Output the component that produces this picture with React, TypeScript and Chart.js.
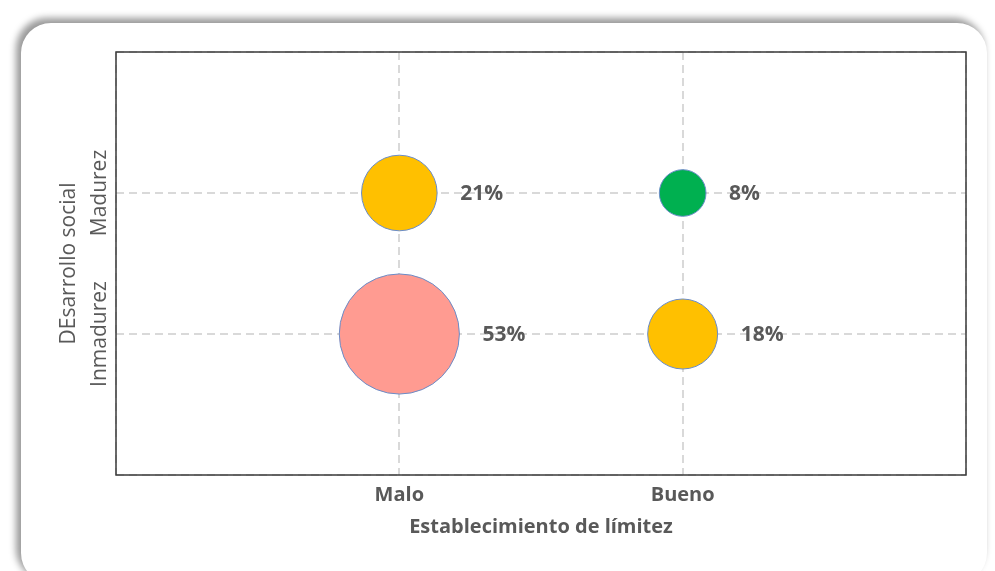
import React, { useEffect, useRef } from 'react';
import { Chart, registerables } from 'chart.js';

Chart.register(...registerables);

const xCategories = ['Malo', 'Bueno'];
const yCategories = ['Inmadurez', 'Madurez'];
const pointX = ['Malo', 'Malo', 'Bueno', 'Bueno'];
const pointY = ['Madurez', 'Inmadurez', 'Madurez', 'Inmadurez'];
const percentages = [21, 53, 8, 18];
const pointColors = ['#FFC000', '#FF9B91', '#00B050', '#FFC000'];
const xTitle = 'Establecimiento de límitez';
const yTitle = 'DEsarrollo social';

const TEXT = '#595959';
const FONT = '"Open Sans"';

const bubbleData = percentages.map((v, i) => ({
  x: xCategories.indexOf(pointX[i]) + 1,
  y: yCategories.indexOf(pointY[i]) + 1,
  r: 8.25 * Math.sqrt(v),
  v,
}));

const extrasPlugin = {
  id: 'extras',
  afterDatasetsDraw(chart: any) {
    const { ctx, chartArea, scales } = chart;
    ctx.save();
    ctx.strokeStyle = '#3a3a3a';
    ctx.lineWidth = 1.5;
    ctx.setLineDash([]);
    ctx.strokeRect(chartArea.left, chartArea.top, chartArea.right - chartArea.left, chartArea.bottom - chartArea.top);
    const meta = chart.getDatasetMeta(0);
    ctx.fillStyle = TEXT;
    ctx.font = `bold 21px ${FONT}`;
    ctx.textAlign = 'left';
    ctx.textBaseline = 'middle';
    meta.data.forEach((el: any, i: number) => {
      const r = el.options.radius;
      ctx.fillText(`${percentages[i]}%`, el.x + r + 23, el.y + 1);
    });
    const ys = scales.y;
    ctx.font = `21px ${FONT}`;
    ctx.textAlign = 'center';
    ctx.textBaseline = 'middle';
    yCategories.forEach((lab, i) => {
      const py = ys.getPixelForValue(i + 1);
      ctx.save();
      ctx.translate(100, py);
      ctx.rotate(-Math.PI / 2);
      ctx.fillText(lab, 0, 0);
      ctx.restore();
    });
    ctx.restore();
  },
};

export default function App() {
  const ref = useRef<HTMLCanvasElement>(null);
  useEffect(() => {
    if (!ref.current) return;
    const chart = new Chart(ref.current, {
      type: 'bubble',
      data: {
        datasets: [
          {
            data: bubbleData,
            backgroundColor: pointColors,
            borderColor: '#6A8CC8',
            borderWidth: 1,
          },
        ],
      },
      options: {
        responsive: false,
        animation: false,
        events: [],
        layout: { autoPadding: false, padding: { top: 52, right: 29, left: 0, bottom: 0 } },
        plugins: { legend: { display: false }, tooltip: { enabled: false } },
        scales: {
          x: {
            type: 'linear',
            min: 0,
            max: 3,
            afterFit: (s: any) => { s.height = 96; },
            ticks: {
              stepSize: 1,
              padding: 8,
              color: TEXT,
              font: { family: FONT, size: 20, weight: 'bold' },
              callback: (v: any) => (v >= 1 && v <= xCategories.length ? xCategories[v - 1] : ''),
            },
            grid: { color: '#D9D9D9', lineWidth: 2, drawTicks: false, tickLength: 0 },
            border: { display: false, dash: [8, 5] },
            title: {
              display: true,
              text: xTitle,
              color: TEXT,
              font: { family: FONT, size: 20, weight: 'bold' },
              padding: { top: 0, bottom: 32 },
            },
          },
          y: {
            type: 'linear',
            min: 0,
            max: 3,
            afterFit: (s: any) => { s.width = 116; },
            ticks: { stepSize: 1, display: false },
            grid: { color: '#D9D9D9', lineWidth: 2, drawTicks: false, tickLength: 0 },
            border: { display: false, dash: [8, 5] },
            title: {
              display: true,
              text: yTitle,
              color: TEXT,
              font: { family: FONT, size: 21, weight: 'normal' },
              padding: { top: 56, bottom: 0 },
            },
          },
        },
      },
      plugins: [extrasPlugin],
    });
    return () => chart.destroy();
  }, []);

  return (
    <div style={{ position: 'fixed', left: 0, top: 0, width: 995, height: 571, overflow: 'hidden', background: '#fff' }}>
      <div
        style={{
          position: 'absolute',
          left: 21,
          top: 23,
          width: 966,
          height: 560,
          borderRadius: 30,
          background: '#fff',
          boxShadow: '-4px -4px 7px 1px rgba(0,0,0,0.4)',
        }}
      />
      <canvas ref={ref} width={995} height={571} style={{ position: 'absolute', left: 0, top: 0 }} />
    </div>
  );
}
